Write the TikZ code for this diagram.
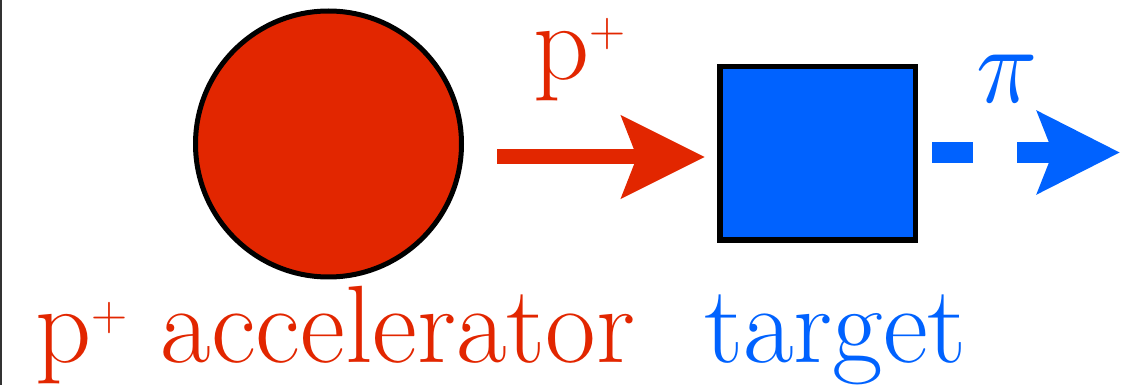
\documentclass[tikz,border=0pt]{standalone}
\usepackage{fontspec}
\usepackage{graphicx}
\usepackage{tikz}
\usetikzlibrary{arrows.meta}
\definecolor{accred}{RGB}{226,38,0}
\definecolor{tgtblue}{RGB}{0,98,255}
\newcommand{\plusup}{\raisebox{16.5pt}{\fontsize{25}{25}\selectfont +}}
\newcommand{\bigpi}{\scalebox{5.06}[5.5]{\fontsize{10}{12}\selectfont$\pi$}}
\tikzset{
  bigtxt/.style  ={font=\fontsize{55}{60}\selectfont,inner sep=0pt,anchor=base west},
  accbox/.style  ={circle,draw=black,line width=2.5pt,fill=accred,
                   inner sep=0pt,minimum size=133pt},
  tgtbox/.style  ={rectangle,draw=black,line width=2.75pt,fill=tgtblue,
                   inner sep=0pt,minimum width=97.75pt,minimum height=86.75pt},
  beamarr/.style ={accred,line width=7.5pt,
                   -{Stealth[length=41.5pt,width=40.5pt,inset=7.5pt]}},
  pionarr/.style ={tgtblue,line width=10.5pt,dash pattern=on 20.5pt off 22pt,
                   -{Stealth[length=41pt,width=40.5pt,inset=7.5pt]}},
}

\begin{document}
\begin{tikzpicture}[x=0.5pt,y=-0.5pt]
\useasboundingbox (0,0) rectangle (1121,385);

% left edge rule
\draw[black!80,line width=1pt] (1,0) -- (1,385);

\node[accbox] (acc) at (328.5,144) {};
\node[tgtbox] (tgt) at (817.5,153.5) {};

% proton beam
\coordinate (pin) at (497,157);
\draw[beamarr,shorten >=6pt] (pin) -- (tgt.west |- pin);
\node[bigtxt,accred] (plab) at (533,80) {p\plusup};

% pion beam
\coordinate (piin) at (932,152.5);
\coordinate (piout) at (1120,152.5);
\draw[pionarr] (piin) -- (piout);
\node[bigtxt,tgtblue] (pilab) at (976,103) {\bigpi};

% captions
\node[bigtxt,accred] (acclab) at (35,363) {p\plusup{} accelerator};
\node[bigtxt,tgtblue] (tgtlab) at (704,363) {target};

\end{tikzpicture}
\end{document}
